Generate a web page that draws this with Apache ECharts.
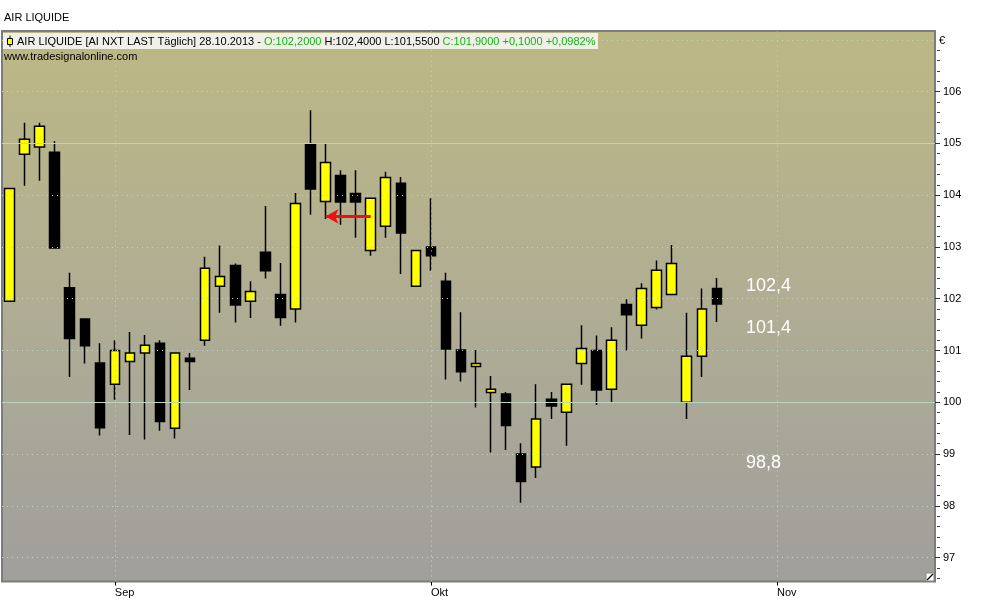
<!DOCTYPE html>
<html>
<head>
<meta charset="utf-8">
<script src="https://cdn.jsdelivr.net/npm/echarts@6/dist/echarts.min.js"></script>
<style>html,body{margin:0;padding:0;background:#fff}#c{width:1000px;height:600px}</style>
</head>
<body>
<div id="c"></div>
<script>
// Trading days (Aug 22 2013 .. Nov 15 2013), 48 with data, rest empty future slots
const categories = [
  '22.08','23.08','26.08','27.08','28.08','29.08','30.08',
  '02.09','03.09','04.09','05.09','06.09','09.09','10.09','11.09','12.09','13.09',
  '16.09','17.09','18.09','19.09','20.09','23.09','24.09','25.09','26.09','27.09','30.09',
  '01.10','02.10','03.10','04.10','07.10','08.10','09.10','10.10','11.10',
  '14.10','15.10','16.10','17.10','18.10','21.10','22.10','23.10','24.10','25.10','28.10',
  '29.10','30.10','31.10','01.11','04.11','05.11','06.11','07.11','08.11',
  '11.11','12.11','13.11','14.11','15.11'
];
const monthLabels = { '02.09': 'Sep', '01.10': 'Okt', '01.11': 'Nov' };

const opens  = [101.95,104.79,104.93,104.83,102.21,101.61,100.76,100.35,100.79,100.95,101.14,99.50,100.85,101.20,102.24,102.64,101.95,102.90,102.08,101.80,104.99,103.88,104.38,104.03,102.93,103.40,104.23,102.24,103.00,102.34,101.01,100.69,100.19,100.16,99.00,98.75,100.06,99.81,100.75,101.00,100.25,101.89,101.49,101.83,102.08,100.00,100.89,102.20];
const closes = [104.13,105.08,105.33,102.98,101.23,101.09,99.51,101.00,100.95,101.10,99.63,100.95,100.79,102.59,102.43,101.88,102.14,102.54,101.64,103.84,104.12,104.63,103.87,103.87,103.94,104.34,103.27,102.93,102.83,101.03,100.59,100.75,100.25,99.55,98.47,99.68,99.93,100.35,101.04,100.24,101.20,101.69,102.20,102.55,102.68,100.89,101.80,101.90];
const lows   = [101.95,104.18,104.28,102.98,100.49,100.75,99.36,100.05,99.37,99.28,99.45,99.30,100.24,101.09,101.73,101.54,101.63,102.39,101.48,101.54,103.62,103.54,103.43,103.18,102.83,103.18,102.48,102.24,102.54,100.44,100.40,99.90,99.03,99.08,98.06,98.54,99.68,99.16,100.34,99.95,99.99,101.00,101.23,101.79,102.08,99.68,100.49,101.55];
const highs  = [104.13,105.40,105.40,105.04,102.50,101.61,101.14,101.20,101.36,101.30,101.20,100.95,100.95,102.81,103.03,102.68,102.34,103.79,102.69,104.04,105.64,104.99,104.48,104.48,103.94,104.45,104.35,102.93,103.94,102.50,101.74,101.01,100.51,100.20,99.21,100.35,100.20,100.35,101.49,101.29,101.45,101.99,102.30,102.74,103.04,101.73,102.20,102.40];

const yLabels = [97, 98, 99, 100, 101, 102, 103, 104, 105, 106];
const gridDotted = [97, 98, 99, 101, 102, 103, 104, 106, 107];
const gridSolid = [100, 105];
const monthLines = ['02.09', '01.10', '01.11'];
const arrowLevel = 103.59;
const arrowFrom = '25.09', arrowTo = '20.09';
const notes = [
  { text: '102,4', y: 286 },
  { text: '101,4', y: 328 },
  { text: '98,8', y: 463 }
];

const Y_MIN = 96.54, Y_MAX = 107.17;
const minorTicks = [];
for (let k = 483; k <= 534; k++) { if (k % 5 !== 0) minorTicks.push(+(k * 0.2).toFixed(1)); }

const candleData = opens.map((o, i) => [o, closes[i], lows[i], highs[i]]);

const FONT = '"Liberation Sans", Arial, sans-serif';
const chart = echarts.init(document.getElementById('c'));
chart.setOption({
  animation: false,
  backgroundColor: '#ffffff',
  grid: {
    left: 2, right: 65, top: 31, bottom: 18.5,
    show: true,
    borderColor: '#7c7c7c', borderWidth: 2,
    backgroundColor: { type: 'linear', x: 0, y: 0, x2: 0, y2: 1,
      colorStops: [{ offset: 0, color: '#bcb884' }, { offset: 0.5, color: '#b0ad94' }, { offset: 1, color: '#a09f9c' }] }
  },
  xAxis: {
    type: 'category', data: categories, boundaryGap: true,
    axisLine: { show: false },
    axisTick: { show: true, alignWithLabel: true, length: 4, lineStyle: { color: '#000' },
      interval: (i, v) => !!monthLabels[v] },
    axisLabel: { interval: (i, v) => !!monthLabels[v], formatter: v => monthLabels[v] || '',
      align: 'left', margin: 6, fontSize: 11, fontFamily: FONT, color: '#000' },
    splitLine: { show: false }
  },
  yAxis: [
    { type: 'value', position: 'right', min: Y_MIN, max: Y_MAX, scale: true,
      axisLine: { show: false }, splitLine: { show: false },
      axisTick: { show: true, length: 5, customValues: yLabels, lineStyle: { color: '#333' } },
      axisLabel: { customValues: yLabels, margin: 8, fontSize: 11, fontFamily: FONT, color: '#000' } },
    { type: 'value', position: 'right', offset: 2, min: Y_MIN, max: Y_MAX, scale: true,
      axisLine: { show: false }, splitLine: { show: false },
      axisTick: { show: true, length: 3, customValues: minorTicks, lineStyle: { color: '#444', width: 1 } },
      axisLabel: { show: true, customValues: minorTicks, formatter: () => '', fontSize: 1 } }
  ],
  series: [
    { type: 'line', data: [], z: 1, silent: true,
      markLine: { silent: true, symbol: ['none', 'none'], label: { show: false }, animation: false,
        data: [
          ...gridDotted.map(v => ({ yAxis: v, lineStyle: { color: '#bad8ca', type: [1, 4], width: 1 } })),
          ...gridSolid.map(v => ({ yAxis: v, lineStyle: { color: '#b9d6c0', type: 'solid', width: 1 } })),
          ...monthLines.map(v => ({ xAxis: v, lineStyle: { color: '#bad8ca', type: [1, 4], width: 1 } }))
        ] } },
    { type: 'candlestick', data: candleData, z: 3, barWidth: 10,
      itemStyle: { color: '#ffff00', color0: '#000000', borderColor: '#000000', borderColor0: '#000000', borderWidth: 1.5 },
      markLine: { silent: true, symbol: ['none', 'arrow'], symbolSize: [11, 13], label: { show: false }, animation: false,
        lineStyle: { color: '#ee1111', width: 3, type: 'solid' },
        data: [[{ coord: [arrowFrom, arrowLevel] }, { coord: [arrowTo, arrowLevel] }]] } }
  ],
  graphic: [
    { type: 'text', x: 4, y: 18, style: { text: 'AIR LIQUIDE', font: '11px ' + FONT, fill: '#000', verticalAlign: 'middle' } },
    { type: 'rect', shape: { x: 3, y: 33, width: 595, height: 16 }, style: { fill: '#f1f0e8' }, z: 10 },
    { type: 'line', shape: { x1: 10, y1: 35.5, x2: 10, y2: 47 }, style: { stroke: '#000', lineWidth: 1 }, z: 11 },
    { type: 'rect', shape: { x: 7.5, y: 38.5, width: 5, height: 6 }, style: { fill: '#ffff00', stroke: '#000', lineWidth: 1 }, z: 12 },
    { type: 'text', x: 17, y: 41.5, z: 12, style: {
        text: '{b|AIR LIQUIDE [AI NXT LAST Täglich] 28.10.2013 - }{g|O:102,2000 }{b|H:102,4000 L:101,5500 }{g|C:101,9000 +0,1000 +0,0982%}',
        font: '11px ' + FONT, verticalAlign: 'middle',
        rich: { b: { fill: '#000', font: '11px ' + FONT }, g: { fill: '#12b412', font: '11px ' + FONT } } } },
    { type: 'text', x: 4, y: 57, z: 12, style: { text: 'www.tradesignalonline.com', font: '11px ' + FONT, fill: '#000', verticalAlign: 'middle' } },
    { type: 'text', x: 939, y: 41, style: { text: '€', font: '11px ' + FONT, fill: '#000', verticalAlign: 'middle' } },
    { type: 'rect', shape: { x: 926, y: 573, width: 8, height: 8 }, style: { fill: '#fff', stroke: '#888', lineWidth: 1 }, z: 12 },
    { type: 'line', shape: { x1: 927, y1: 580, x2: 933, y2: 574 }, style: { stroke: '#000', lineWidth: 1.2 }, z: 13 },
    ...notes.map(n => ({ type: 'text', x: 746, y: n.y, z: 12,
      style: { text: n.text, font: '18px ' + FONT, fill: '#ffffff', verticalAlign: 'middle' } }))
  ]
});
</script>
</body>
</html>
